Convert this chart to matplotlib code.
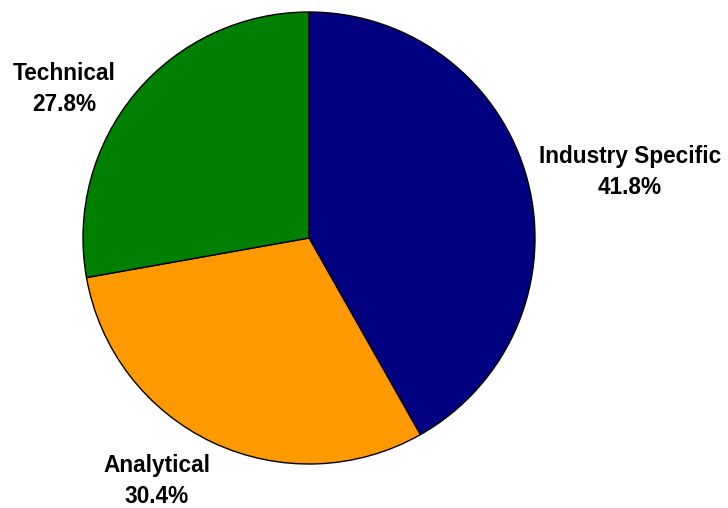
import matplotlib
matplotlib.use("Agg")
import matplotlib.pyplot as plt

categories = ["Industry Specific", "Analytical", "Technical"]
shares = [41.8, 30.4, 27.8]
colors = ["#000080", "#FF9900", "#008000"]

W, H = 728, 508
fig = plt.figure(figsize=(W / 100, H / 100), dpi=100)
fig.patch.set_facecolor("white")

cx, cy, r = 309, 270, 226
ax = fig.add_axes([(cx - r) / W, (cy - r) / H, 2 * r / W, 2 * r / H])
ax.pie(shares, colors=colors, startangle=90, counterclock=False,
       wedgeprops=dict(edgecolor="black", linewidth=1.0))
ax.set_xlim(-1, 1)
ax.set_ylim(-1, 1)
ax.set_aspect("equal")
ax.axis("off")

# label anchor points, in units of the pie radius
label_pos = [(321 / r, 66 / r), (-152 / r, -243 / r), (-245 / r, 149 / r)]
for name, val, (x, y) in zip(categories, shares, label_pos):
    ax.text(x, y, f"{name}\n{val:.1f}%", ha="center", va="center",
            fontsize=16.3, fontweight="bold", family="Liberation Sans",
            linespacing=1.4, clip_on=False)

fig.savefig("out.png", dpi=100, facecolor="white")
